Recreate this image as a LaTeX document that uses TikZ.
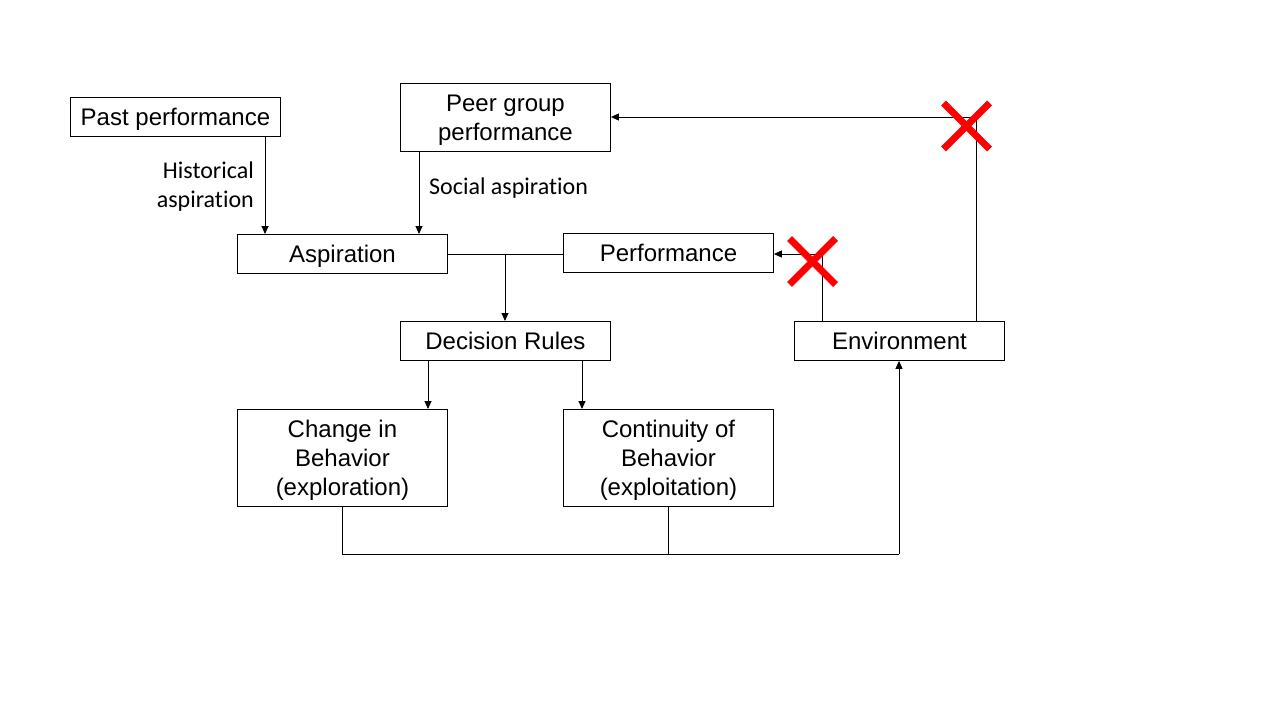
\documentclass[tikz,border=0pt]{standalone}
\usepackage{fontspec}
\setmainfont{Liberation Sans}
\newfontfamily\labfont[Ligatures=NoCommon]{Carlito}
\usetikzlibrary{arrows.meta,calc}
\newcommand{\bxs}{\rule[-5.1pt]{0pt}{26.8pt}}
\begin{document}
\begin{tikzpicture}[x=1pt,y=-1pt,
  box/.style={draw,line width=0.9pt,minimum width=210pt,inner sep=0pt,anchor=north west,align=center,font=\fontsize{24}{29}\selectfont},
  lab/.style={inner sep=0pt,font=\labfont\fontsize{24}{29}\selectfont},
  conn/.style={line width=0.9pt},
  arr/.style={line width=0.9pt,-{Triangle[length=8pt,width=7pt]}},
  xmark/.style={draw=red,line width=7pt}]
\useasboundingbox[fill=white] (0,0) rectangle (1280,720);
\node[box,minimum height=39pt] (past) at (70,97) {\bxs Past performance};
\node[box,minimum height=68pt] (peer) at (400,83) {\bxs Peer group\\\bxs performance};
\node[box,minimum height=39pt] (asp) at (237,234) {\bxs Aspiration};
\node[box,minimum height=39pt] (perf) at (563,233) {\bxs Performance};
\node[box,minimum height=39pt] (dec) at (400,321) {\bxs Decision Rules};
\node[box,minimum height=39pt] (env) at (794,321) {\bxs Environment};
\node[box,minimum height=97pt] (chg) at (237,409) {\bxs Change in\\\bxs Behavior\\\bxs (exploration)};
\node[box,minimum height=97pt] (cont) at (563,409) {\bxs Continuity of\\\bxs Behavior\\\bxs (exploitation)};
\node[lab,align=right,anchor=east] (hist) at (254,187) {Historical\\aspiration};
\node[lab,anchor=west] (soc) at (429,188) {Social aspiration};
\coordinate (j1) at (505,254);
\coordinate (j2) at (342,554);
\coordinate (j3) at (668,554);
\coordinate (j4) at (899,554);
\draw[arr] (past.south -| 265,0) -- (asp.north -| 265,0);
\draw[arr] (peer.south -| 419,0) -- (asp.north -| 419,0);
\draw[conn] (asp.east |- j1) -- (perf.west |- j1);
\draw[arr] (j1) -- (dec.north -| j1);
\draw[arr] (dec.south -| 428,0) -- (chg.north -| 428,0);
\draw[arr] (dec.south -| 582,0) -- (cont.north -| 582,0);
\draw[conn] (chg.south -| j2) -- (j2) -- (j4);
\draw[conn] (cont.south -| j3) -- (j3);
\draw[arr] (j4) -- (env.south -| j4);
\draw[arr] (env.north -| 822,0) -- (822,254) -- (perf.east |- 0,254);
\draw[arr] (env.north -| 976,0) -- (976,117) -- (peer.east |- 0,117);
\coordinate (x1) at (966.5,126);
\coordinate (x2) at (812.5,261.5);
\draw[xmark] ($(x1)+(-23,-23)$) -- ($(x1)+(23,23)$);
\draw[xmark] ($(x1)+(23,-23)$) -- ($(x1)+(-23,23)$);
\draw[xmark] ($(x2)+(-23,-23)$) -- ($(x2)+(23,23)$);
\draw[xmark] ($(x2)+(23,-23)$) -- ($(x2)+(-23,23)$);
\end{tikzpicture}
\end{document}
